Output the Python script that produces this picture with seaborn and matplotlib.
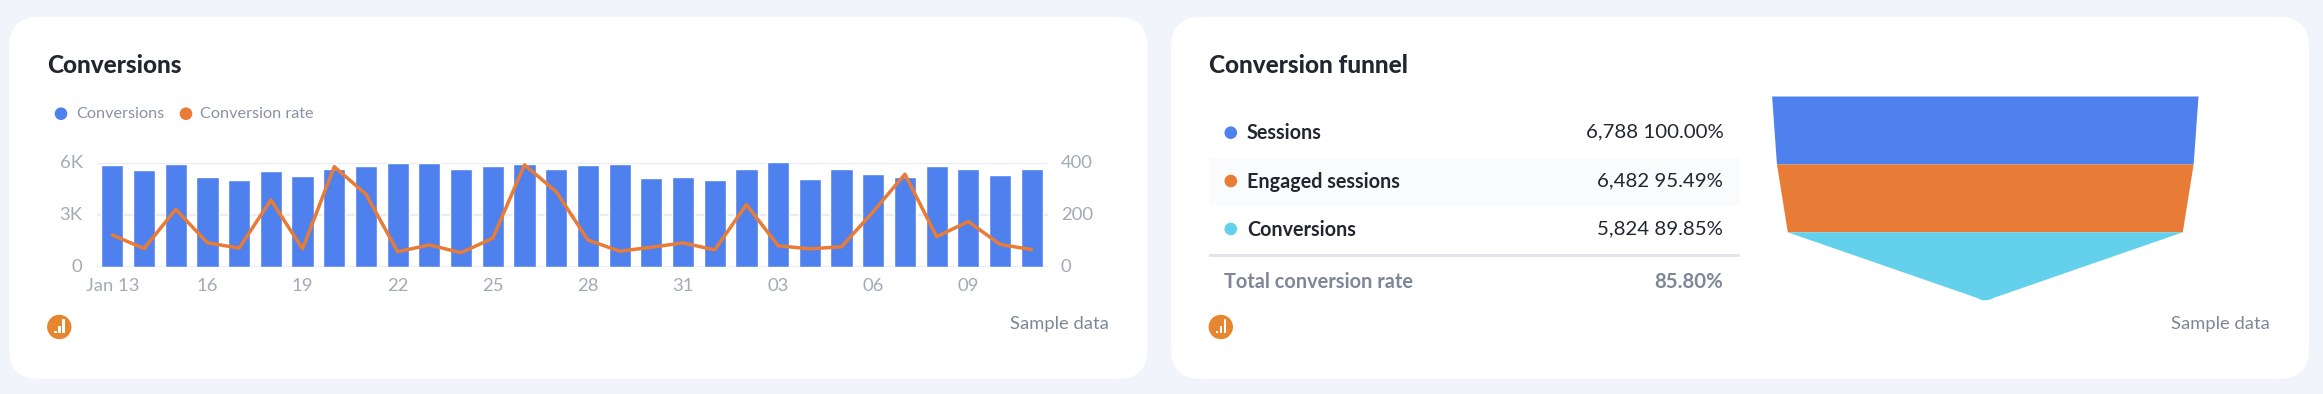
import numpy as np
import pandas as pd
import seaborn as sns
import matplotlib.pyplot as plt
from matplotlib.patches import FancyBboxPatch, Circle, Rectangle
from matplotlib.transforms import ScaledTranslation

W, H = 2323, 394
BLUE = "#4f81ee"
ORANGE = "#e87b36"
CYAN = "#63d0ec"
DARK = "#23252f"
GREY = "#7f8698"
TICK = "#a4a9b6"

days = [d.strftime("%m-%d") for d in pd.date_range("2024-01-13", periods=30)]
conversions = [5904, 5596, 5962, 5212, 5058, 5577, 5269, 5654, 5846, 6019,
               6000, 5673, 5846, 5962, 5692, 5885, 5981, 5135, 5212, 5058,
               5654, 6058, 5096, 5654, 5385, 5231, 5865, 5673, 5346, 5673]
conv_rate = [124, 72, 223, 94, 74, 259, 71, 387, 281, 60,
             86, 56, 112, 394, 291, 105, 62, 77, 94, 67,
             241, 83, 71, 79, 214, 358, 118, 176, 88, 68]
x_labels = ["Jan 13", "16", "19", "22", "25", "28", "31", "03", "06", "09"]
left_ticks = [0, 3000, 6000]
left_labels = ["0", "3K", "6K"]
right_ticks = [0, 200, 400]

stages = ["Sessions", "Engaged sessions", "Conversions"]
stage_values = [6788, 6482, 5824]
stage_pct = ["100.00%", "95.49%", "89.85%"]
stage_colors = [BLUE, ORANGE, CYAN]
total_rate = "85.80%"

sns.set_theme(style="white")
plt.rcParams["font.family"] = ["Lato", "DejaVu Sans"]

fig = plt.figure(figsize=(W / 100, H / 100), dpi=100, facecolor="#f2f4fb")


def axes_px(x0, y0, x1, y1):
    return fig.add_axes([x0 / W, 1 - y1 / H, (x1 - x0) / W, (y1 - y0) / H])


# page layer in pixels
bg = fig.add_axes([0, 0, 1, 1], zorder=0)
bg.set_xlim(0, W)
bg.set_ylim(H, 0)
bg.axis("off")


def card(x0, x1):
    bg.add_patch(FancyBboxPatch((x0 + 30, 47), x1 - x0 - 60, 302,
                                boxstyle="round,pad=30,rounding_size=30",
                                fc="white", ec="none"))


def icon(cx, cy):
    bg.add_patch(Circle((cx, cy), 12.2, fc="#e8852f", ec="none"))
    bg.add_patch(Rectangle((cx - 5, cy + 4), 2.4, 2.4, fc="white", ec="none"))
    bg.add_patch(Rectangle((cx - 1, cy - 1), 2.6, 7.4, fc="white", ec="none"))
    bg.add_patch(Rectangle((cx + 3, cy - 8), 2.6, 14.4, fc="white", ec="none"))


card(9, 1147.5)
card(1171, 2309)

# left card
bg.text(47, 65.5, "Conversions", fontsize=17.5, fontweight="black", color=DARK, va="center")
bg.add_patch(Circle((61, 113.7), 6.3, fc=BLUE, ec="none"))
bg.text(76, 113.7, "Conversions", fontsize=11.7, color="#8b91a3", va="center")
bg.add_patch(Circle((186, 113.7), 6.3, fc=ORANGE, ec="none"))
bg.text(200.5, 113.7, "Conversion rate", fontsize=11.7, color="#8b91a3", va="center")
icon(59.3, 327)
bg.text(1109, 324, "Sample data", fontsize=13.2, color=GREY, va="center", ha="right")

# right card
bg.text(1209, 65.5, "Conversion funnel", fontsize=17.5, fontweight="black", color=DARK, va="center")
bg.add_patch(Rectangle((1208.6, 158), 531.2, 47.7, fc="#fafbfc", ec="none"))
bg.add_patch(Rectangle((1208.6, 253.5), 531.2, 3, fc="#e1e5ed", ec="none"))
for y, name, val, pct, col in zip([132.7, 181, 229], stages, stage_values, stage_pct, stage_colors):
    bg.add_patch(Circle((1230.8, y), 6.3, fc=col, ec="none"))
    bg.text(1247, y + 0.5, name, fontsize=14.2, fontweight="bold", color=DARK, va="center")
    bg.text(1723.3, y - 0.5, f"{val:,} {pct}", fontsize=14.7, color=DARK, va="center", ha="right")
bg.text(1224.5, 281.5, "Total conversion rate", fontsize=14.4, fontweight="bold", color=GREY, va="center")
bg.text(1723.3, 281.5, total_rate, fontsize=14.7, fontweight="bold", color=GREY, va="center", ha="right")
icon(1220.8, 327)
bg.text(2270, 324, "Sample data", fontsize=13.2, color=GREY, va="center", ha="right")

# bars + line
ax = axes_px(96.5, 163.3, 1047.6, 267.3)
ax.set_zorder(1)
ax.patch.set_visible(False)
df = pd.DataFrame({"day": days, "conversions": conversions, "rate": conv_rate})
sns.barplot(data=df, x="day", y="conversions", color=BLUE, saturation=1, width=0.7, ax=ax, zorder=2)
for bar in ax.patches:
    bar.set_clip_on(False)
ax.set_xlim(-0.5, 29.5)
ax.set_ylim(0, 6000)
ax.set_xticks(range(0, 30, 3), x_labels)
ax.set_yticks(left_ticks, left_labels)
ax.set_xlabel("")
ax.set_ylabel("")
ax.set_axisbelow(True)
ax.grid(axis="y", color="#e9ecf5", lw=1.6)
ax.grid(axis="x", visible=False)
ax.tick_params(axis="x", length=0, pad=8, labelsize=13.3, labelcolor=TICK)
ax.tick_params(axis="y", length=0, pad=10, labelsize=13.3, labelcolor=TICK)

ax2 = ax.twinx()
ax2.set_zorder(2)
ax2.patch.set_visible(False)
sns.lineplot(x=np.arange(len(days)), y=conv_rate, color=ORANGE, lw=2.5, ax=ax2)
ax2.set_ylim(0, 400)
ax2.set_yticks(right_ticks, [str(t) for t in right_ticks])
ax2.set_ylabel("")
ax2.grid(False)
ax2.tick_params(axis="y", length=0, pad=9.5, labelsize=13.3, labelcolor=TICK)
sns.despine(ax=ax, left=True, right=True, top=True, bottom=True)
sns.despine(ax=ax2, left=True, right=True, top=True, bottom=True)

# y labels sit a little above their gridlines
nudge = ScaledTranslation(0, 1.2 / 72, fig.dpi_scale_trans)
for lab in ax.get_yticklabels() + ax2.get_yticklabels():
    lab.set_transform(lab.get_transform() + nudge)

# funnel: stage width follows sqrt(value), each stage same height
widths = np.sqrt(np.array(stage_values) / stage_values[0])
fax = axes_px(1771.6, 96, 2198, 299.7)
fax.set_zorder(1)
fax.patch.set_visible(False)
fax.set_xlim(-1, 1)
fax.set_ylim(3, 0)
fax.axis("off")
for i, col in enumerate(stage_colors):
    if i < 2:
        rows = [i, i + 1]
        hw = [widths[i], widths[i + 1]]
    else:
        rows = [2, 2.965, 2.988, 3]
        hw = [widths[2], 0.04, 0.025, 0.012]
    fax.fill_betweenx(rows, -np.array(hw), hw, color=col, lw=0)

fig.savefig("out.png", dpi=100, facecolor=fig.get_facecolor())
